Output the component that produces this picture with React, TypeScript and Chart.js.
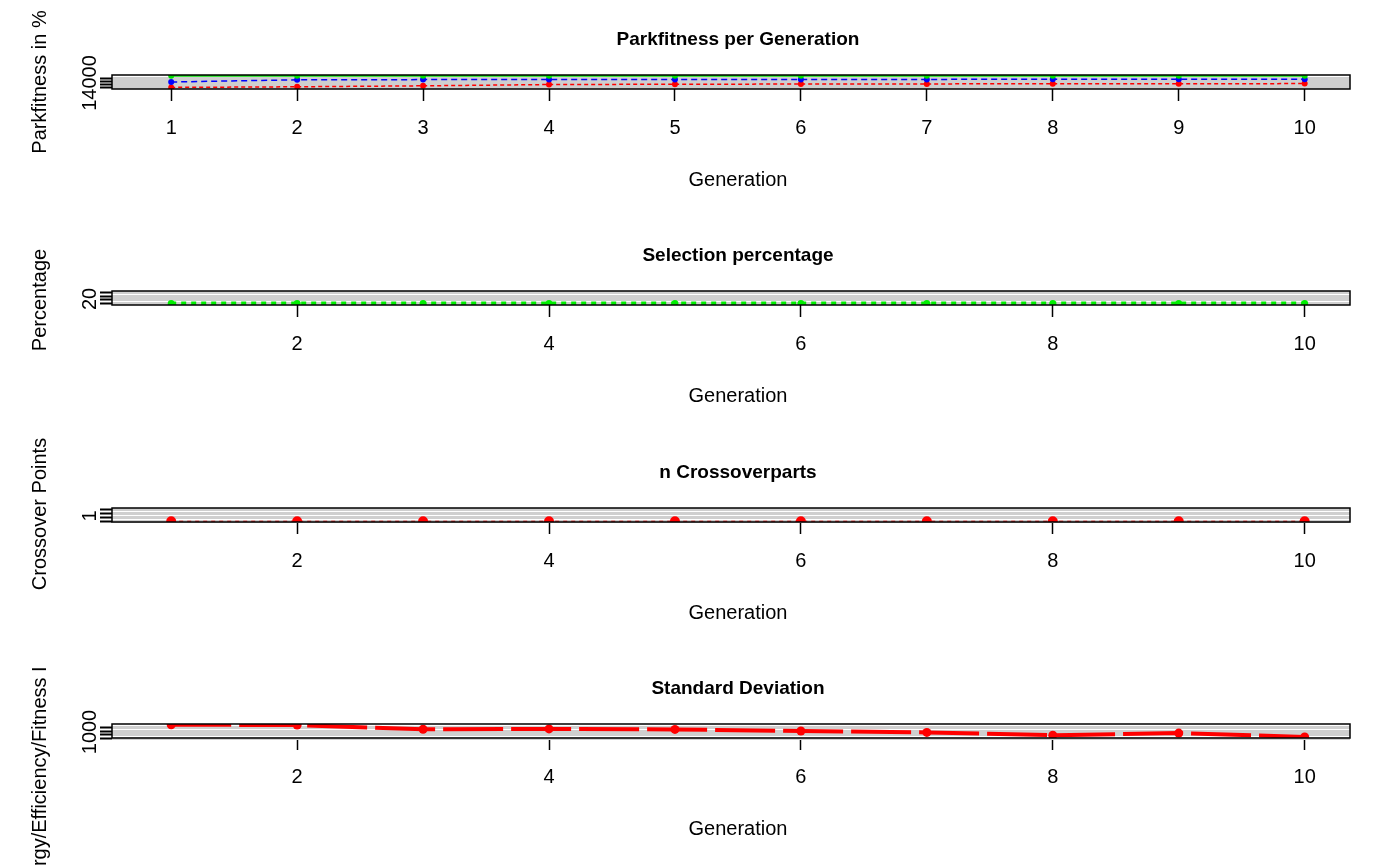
import { useEffect, useRef } from 'react';
import Chart from 'chart.js/auto';

const generations = [1, 2, 3, 4, 5, 6, 7, 8, 9, 10];

// Parkfitness per Generation
const parkBest = [14380, 14380, 14380, 14380, 14380, 14380, 14380, 14380, 14380, 14380];
const parkMean = [14180, 14250, 14255, 14260, 14260, 14262, 14262, 14265, 14265, 14268];
const parkWorst = [14010, 14030, 14060, 14100, 14110, 14115, 14120, 14125, 14125, 14130];
const parkTicks = [14000, 14100, 14200, 14300];

// Selection percentage
const selection = [20, 20, 20, 20, 20, 20, 20, 20, 20, 20];
const selectionTicks = [20, 25, 30, 35];

// n Crossoverparts
const crossover = [1, 1, 1, 1, 1, 1, 1, 1, 1, 1];
const crossoverTicks = [1, 1.5, 2, 2.5];

// Standard Deviation
const stdDev = [1380, 1370, 1250, 1260, 1245, 1200, 1160, 1080, 1140, 1030];
const stdTicks = [1000, 1100, 1200, 1300];

interface Series {
  data: number[];
  color: string;
  dash: number[];
  width: number;
  radius: number;
}

interface PanelProps {
  title: string;
  yTitle: string;
  yCenter: number;
  yTicks: number[];
  yMin: number;
  yMax: number;
  xStep: number;
  series: Series[];
  height: number;
}

function Panel({ title, yTitle, yCenter, yTicks, yMin, yMax, xStep, series, height }: PanelProps) {
  const ref = useRef<HTMLCanvasElement>(null);

  useEffect(() => {
    if (!ref.current) return;
    const font = '"Liberation Sans", Arial, sans-serif';
    const xLabels = generations.filter((g) => xStep === 1 || g % xStep === 0);
    const labels = {
      id: 'labels',
      afterDraw(chart: Chart) {
        const { ctx, chartArea: a } = chart;
        const xs = chart.scales.x;
        ctx.save();
        ctx.strokeStyle = '#000';
        ctx.lineWidth = 1.5;
        ctx.strokeRect(a.left, a.top, a.right - a.left, a.bottom - a.top);
        ctx.fillStyle = '#000';
        ctx.textAlign = 'center';
        ctx.textBaseline = 'middle';
        ctx.font = `bold 19px ${font}`;
        ctx.fillText(title, 738, 40);
        ctx.font = `20px ${font}`;
        ctx.fillText('Generation', 738, 180);
        xLabels.forEach((g) => ctx.fillText(String(g), xs.getPixelForValue(g), 128));
        ctx.save();
        ctx.translate(40, yCenter);
        ctx.rotate(-Math.PI / 2);
        ctx.fillText(yTitle, 0, 0);
        ctx.restore();
        ctx.save();
        ctx.translate(90, (a.top + a.bottom) / 2 + 1);
        ctx.rotate(-Math.PI / 2);
        ctx.fillText(String(yTicks[0]), 0, 0);
        ctx.restore();
        ctx.restore();
      },
    };

    const chart = new Chart(ref.current, {
      type: 'line',
      data: {
        labels: generations,
        datasets: series.map((s) => ({
          data: generations.map((g, i) => ({ x: g, y: s.data[i] })),
          borderColor: s.color,
          backgroundColor: s.color,
          borderDash: s.dash,
          borderWidth: s.width,
          pointRadius: s.radius,
          pointBorderWidth: 0,
          tension: 0,
        })),
      },
      options: {
        animation: false,
        responsive: false,
        layout: { padding: { top: 75, left: 62, right: 50, bottom: height - 89 - 40 } },
        plugins: { legend: { display: false }, tooltip: { enabled: false } },
        scales: {
          x: {
            type: 'linear',
            min: 0.53,
            max: 10.36,
            afterFit: (s: any) => { s.height = 40; },
            afterBuildTicks: (s: any) => {
              s.ticks = xLabels.map((v) => ({ value: v }));
            },
            border: { display: false },
            grid: { drawOnChartArea: false, tickLength: 12, tickColor: '#000', tickWidth: 1.5 },
            ticks: { autoSkip: false, callback: () => '', maxRotation: 0 },
          },
          y: {
            min: yMin,
            max: yMax,
            afterFit: (s: any) => { s.width = 50; },
            afterBuildTicks: (s: any) => { s.ticks = yTicks.map((v) => ({ value: v })); },
            border: { display: false },
            grid: {
              color: '#cfcfcf',
              lineWidth: 3,
              borderDash: [10, 6],
              tickLength: 12,
              tickColor: '#000',
              tickWidth: 2,
              tickBorderDash: [],
            },
            ticks: { autoSkip: false, callback: () => '', padding: 0 },
          },
        },
      },
      plugins: [labels],
    });
    return () => chart.destroy();
  }, []);

  return <canvas ref={ref} width={1400} height={height} style={{ display: 'block' }} />;
}

export default function App() {
  useEffect(() => {
    document.body.style.margin = '0';
  }, []);
  return (
    <div style={{ width: 1400, height: 866, background: '#fff', overflow: 'hidden' }}>
      <Panel
        title="Parkfitness per Generation"
        yTitle="Parkfitness in %"
        yCenter={82}
        yTicks={parkTicks}
        yMin={13960}
        yMax={14400}
        xStep={1}
        height={216}
        series={[
          { data: parkBest, color: '#00dd00', dash: [], width: 2, radius: 3 },
          { data: parkMean, color: '#0000ff', dash: [6, 4], width: 1.5, radius: 3 },
          { data: parkWorst, color: '#ff0000', dash: [4, 3], width: 1.5, radius: 3 },
        ]}
      />
      <Panel
        title="Selection percentage"
        yTitle="Percentage"
        yCenter={84}
        yTicks={selectionTicks}
        yMin={18}
        yMax={37}
        xStep={2}
        height={217}
        series={[{ data: selection, color: '#00ee00', dash: [5, 5], width: 4, radius: 3.5 }]}
      />
      <Panel
        title="n Crossoverparts"
        yTitle="Crossover Points"
        yCenter={81}
        yTicks={crossoverTicks}
        yMin={0.9}
        yMax={2.7}
        xStep={2}
        height={216}
        series={[{ data: crossover, color: '#ff0000', dash: [4, 4], width: 1, radius: 5 }]}
      />
      <Panel
        title="Standard Deviation"
        yTitle="Energy/Efficiency/Fitness I"
        yCenter={135}
        yTicks={stdTicks}
        yMin={1000}
        yMax={1400}
        xStep={2}
        height={217}
        series={[{ data: stdDev, color: '#ff0000', dash: [60, 8], width: 4, radius: 4.5 }]}
      />
    </div>
  );
}
